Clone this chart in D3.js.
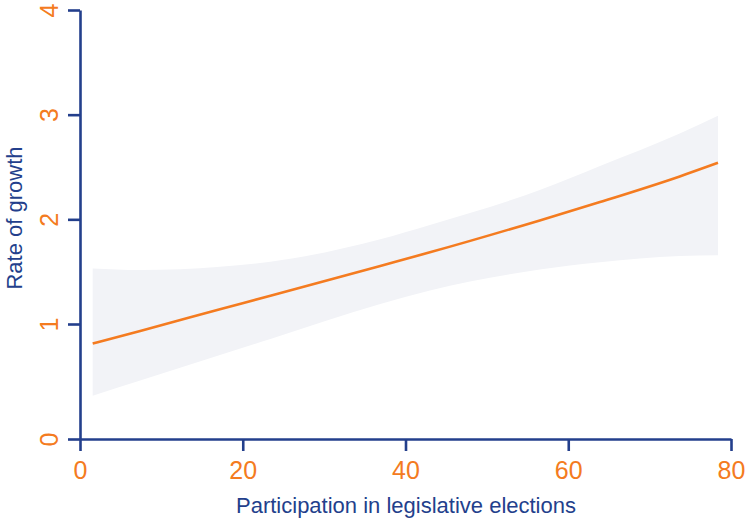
<!DOCTYPE html>
<html>
<head>
<meta charset="utf-8">
<script src="https://cdn.jsdelivr.net/npm/d3@7"></script>
<style>
  body { margin: 0; background: #fff; }
  svg { display: block; font-family: "Liberation Sans", Arial, sans-serif; }
</style>
</head>
<body>
<script>
const participation = [1.56, 7.4, 17.2, 23.4, 36.9, 43.0, 56.5, 63.9, 73.7, 78.4];
const growthFit = [0.83, 0.94, 1.14, 1.27, 1.555, 1.685, 1.99, 2.165, 2.41, 2.54];
const upperBound = [1.53, 1.515, 1.547, 1.595, 1.81, 1.946, 2.28, 2.51, 2.82, 2.99];
const lowerBound = [0.377, 0.508, 0.73, 0.87, 1.19, 1.32, 1.52, 1.59, 1.65, 1.656];
const xTicks = [0, 20, 40, 60, 80];
const yTicks = [0, 1, 2, 3, 4];

function main() {
    const width = 745;
    const height = 519;
    const axisColor = "#233f8c";
    const orange = "#f47b20";

    const svg = d3.select("body").append("svg")
        .attr("width", width)
        .attr("height", height);

    const x = d3.scaleLinear().domain([0, 80]).range([80, 731]);
    // the gap between 0 and 1 is a bit wider than the others in the original
    const y = d3.scaleLinear().domain([0, 1, 4]).range([439, 324, 10]);

    const rows = participation.map((p, i) => ({
        p: p, fit: growthFit[i], hi: upperBound[i], lo: lowerBound[i]
    }));

    svg.append("path")
        .datum(rows)
        .attr("fill", "#f2f3f7")
        .attr("d", d3.area()
            .x(d => x(d.p))
            .y0(d => y(d.lo))
            .y1(d => y(d.hi))
            .curve(d3.curveMonotoneX));

    svg.append("path")
        .datum(rows)
        .attr("fill", "none")
        .attr("stroke", orange)
        .attr("stroke-width", 2.6)
        .attr("d", d3.line()
            .x(d => x(d.p))
            .y(d => y(d.fit))
            .curve(d3.curveMonotoneX));

    const xAxis = svg.append("g")
        .attr("transform", "translate(0,439)")
        .call(d3.axisBottom(x).tickValues(xTicks).tickFormat(d3.format("d"))
            .tickSize(12).tickSizeOuter(0).tickPadding(10));

    const yAxis = svg.append("g")
        .attr("transform", "translate(80,0)")
        .call(d3.axisLeft(y).tickValues(yTicks).tickFormat(d3.format("d"))
            .tickSize(12).tickSizeOuter(0));

    [xAxis, yAxis].forEach(g => {
        g.select(".domain").attr("stroke", axisColor).attr("stroke-width", 2.6);
        g.selectAll(".tick line").attr("stroke", axisColor).attr("stroke-width", 2.6);
        g.selectAll(".tick text")
            .attr("fill", orange)
            .style("font-size", "25px")
            .style("font-family", "Liberation Sans, Arial, sans-serif");
    });

    xAxis.selectAll(".tick text").attr("dy", "0.72em");

    yAxis.selectAll(".tick text")
        .attr("x", null)
        .attr("dy", null)
        .attr("text-anchor", "middle")
        .attr("transform", "translate(-22,0) rotate(-90)");

    svg.append("text")
        .attr("x", 406)
        .attr("y", 513)
        .attr("text-anchor", "middle")
        .attr("fill", axisColor)
        .style("font-size", "22px")
        .text("Participation in legislative elections");

    svg.append("text")
        .attr("transform", "translate(22,218) rotate(-90)")
        .attr("text-anchor", "middle")
        .attr("fill", axisColor)
        .style("font-size", "22px")
        .text("Rate of growth");
}
main();
</script>
</body>
</html>
